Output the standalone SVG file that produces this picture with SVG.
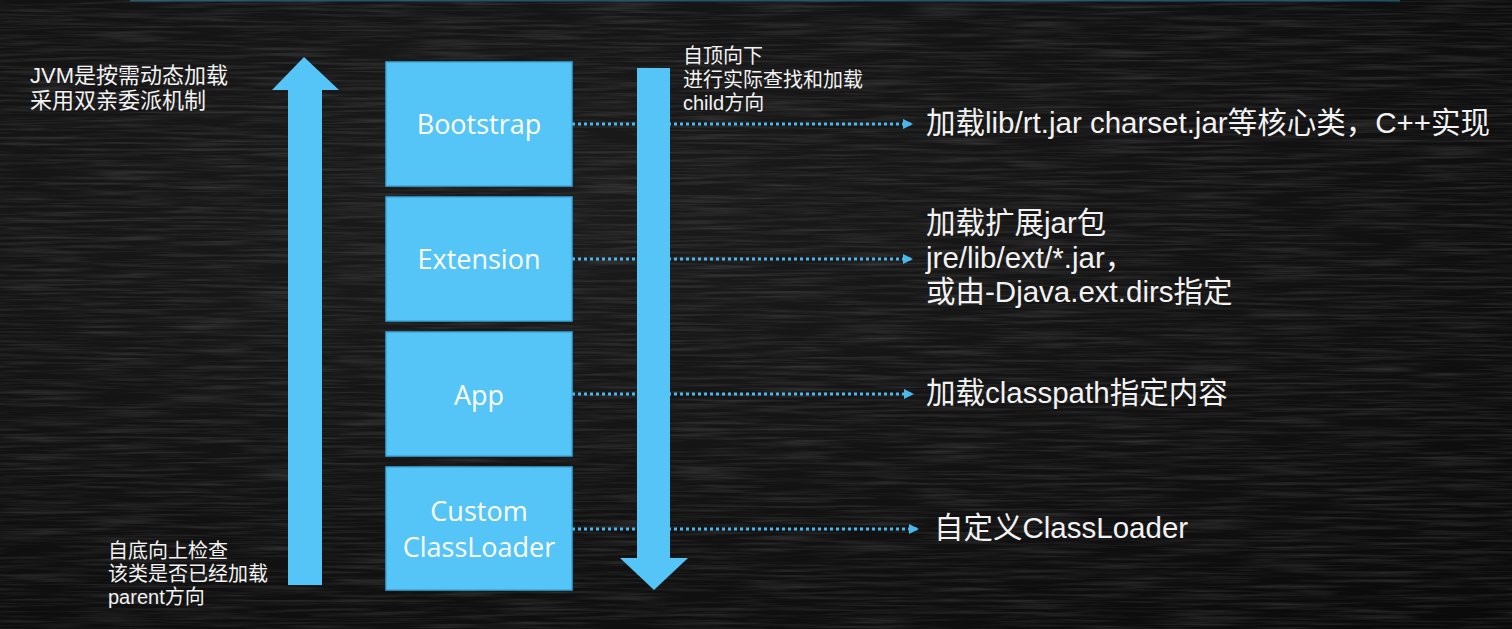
<svg xmlns="http://www.w3.org/2000/svg" width="1512" height="629" viewBox="0 0 1512 629">
<defs>
<style>
.box{fill:#55c5f7;stroke:#3aa6da;stroke-width:1.5}
.arrow{fill:#55c5f7}
.lbl{font-family:"Open Sans","Noto Sans","Noto Sans CJK SC",sans-serif;fill:#ffffff;font-size:27px;text-anchor:middle}
.n{font-family:"Liberation Sans","Noto Sans CJK SC",sans-serif;fill:#f2f2f2}
.sm{font-size:20px}
.md{font-size:22px}
.lg{font-size:29.5px}
.dot{stroke:#4ab8ec;stroke-width:3;stroke-dasharray:3 3;fill:none}
</style>
<marker id="tri" markerWidth="10" markerHeight="10" refX="9" refY="5" orient="auto" markerUnits="userSpaceOnUse">
<path d="M0,0 L10,5 L0,10 Z" fill="#4ab8ec"/>
</marker>
<filter id="grain" x="0" y="0" width="100%" height="100%">
<feTurbulence type="fractalNoise" baseFrequency="0.012 0.35" numOctaves="3" seed="4" result="n"/>
<feColorMatrix in="n" type="matrix" values="0 0 0 0 1  0 0 0 0 1  0 0 0 0 1  0 0 0 0.55 -0.22"/>
</filter>
<radialGradient id="bg" cx="0.35" cy="0.35" r="0.9">
<stop offset="0" stop-color="#1c1c1c"/>
<stop offset="1" stop-color="#0a0a0a"/>
</radialGradient>
</defs>
<rect width="1512" height="629" fill="url(#bg)"/>
<rect width="1512" height="629" filter="url(#grain)" opacity="0.45"/>
<rect x="130" y="0" width="1270" height="1.5" fill="#3a9fcf" opacity="0.45"/>

<g id="connectors">
<line class="dot" x1="572" y1="124" x2="912" y2="124" marker-end="url(#tri)"/>
<line class="dot" x1="572" y1="259" x2="912" y2="259" marker-end="url(#tri)"/>
<line class="dot" x1="572" y1="394" x2="913" y2="394" marker-end="url(#tri)"/>
<line class="dot" x1="572" y1="529" x2="918" y2="529" marker-end="url(#tri)"/>
</g>

<g id="up-arrow">
<path class="arrow" d="M288,585 L288,90 L272,90 L304,57 L339,90 L322,90 L322,585 Z"/>
</g>
<g id="down-arrow">
<path class="arrow" d="M637,68 L670,68 L670,558 L688,558 L654,590 L620,558 L637,558 Z"/>
</g>

<g id="bootstrap">
<rect class="box" x="386" y="62" width="186" height="124"/>
<text class="lbl" x="479" y="134">Bootstrap</text>
</g>
<g id="extension">
<rect class="box" x="386" y="197" width="186" height="124"/>
<text class="lbl" x="479" y="269">Extension</text>
</g>
<g id="app">
<rect class="box" x="386" y="332" width="186" height="124"/>
<text class="lbl" x="479" y="405">App</text>
</g>
<g id="custom">
<rect class="box" x="386" y="467" width="186" height="123"/>
<text class="lbl" x="479" y="521">Custom</text>
<text class="lbl" x="479" y="557">ClassLoader</text>
</g>

<g id="note-top-left">
<text class="n md" x="30" y="83">JVM是按需动态加载</text>
<text class="n md" x="30" y="108">采用双亲委派机制</text>
</g>
<g id="note-top-right">
<text class="n sm" x="683" y="63">自顶向下</text>
<text class="n sm" x="683" y="87">进行实际查找和加载</text>
<text class="n sm" x="683" y="110">child方向</text>
</g>
<g id="note-bottom-left">
<text class="n sm" x="108" y="558">自底向上检查</text>
<text class="n sm" x="108" y="581">该类是否已经加载</text>
<text class="n sm" x="108" y="604">parent方向</text>
</g>

<g id="desc-bootstrap">
<text class="n lg" x="926" y="133">加载lib/rt.jar charset.jar等核心类，C++实现</text>
</g>
<g id="desc-extension">
<text class="n lg" x="926" y="233">加载扩展jar包</text>
<text class="n lg" x="926" y="268">jre/lib/ext/*.jar，</text>
<text class="n lg" x="926" y="302">或由-Djava.ext.dirs指定</text>
</g>
<g id="desc-app">
<text class="n lg" x="926" y="403">加载classpath指定内容</text>
</g>
<g id="desc-custom">
<text class="n lg" x="934" y="538">自定义ClassLoader</text>
</g>
</svg>
